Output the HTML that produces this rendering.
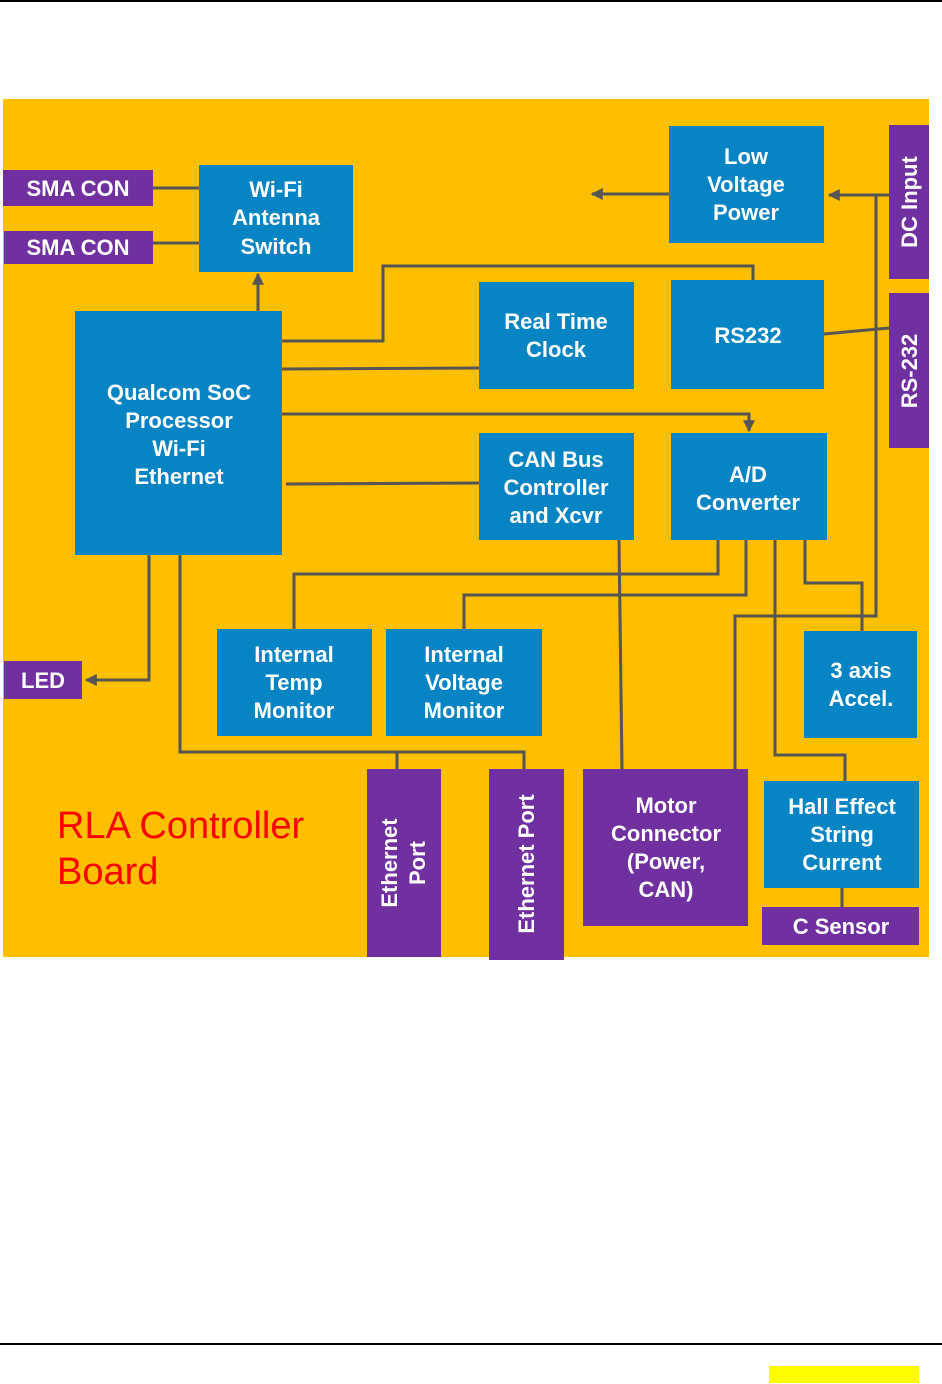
<!DOCTYPE html>
<html><head><meta charset="utf-8"><style>
html,body{margin:0;padding:0;background:#fff;}
svg{display:block;}
text{font-family:"Liberation Sans",sans-serif;font-weight:bold;fill:#fff;font-size:22px;}
</style></head><body>
<svg width="942" height="1384" viewBox="0 0 942 1384" xmlns="http://www.w3.org/2000/svg">
<defs><marker id="a" markerWidth="8" markerHeight="8" refX="6" refY="4" orient="auto" markerUnits="userSpaceOnUse"><path d="M0,0 L8,4 L0,8 Z" fill="#555"/></marker>
<marker id="b" viewBox="0 0 10 10" markerWidth="12" markerHeight="12" refX="9" refY="5" orient="auto" markerUnits="userSpaceOnUse"><path d="M0,0 L10,5 L0,10 Z" fill="#555"/></marker></defs>
<line x1="0" y1="1" x2="942" y2="1" stroke="#000" stroke-width="2"/>
<line x1="0" y1="1344" x2="942" y2="1344" stroke="#000" stroke-width="2"/>
<rect x="769" y="1366" width="150" height="17" fill="#ffff00"/>
<rect x="3" y="99" width="926" height="858" fill="#fdbf00"/>
<g stroke="#555" stroke-width="3" fill="none">
<path d="M153,188H199M153,243H199"/>
<path d="M258,311V274" marker-end="url(#b)"/>
<path d="M282,341H383V266H753V280"/>
<path d="M282,369L479,368"/>
<path d="M282,414H749V431" marker-end="url(#b)"/>
<path d="M286,484L479,483"/>
<path d="M669,194H592" marker-end="url(#b)"/>
<path d="M889,195H829" marker-end="url(#b)"/>
<path d="M876,195V616H735V769"/>
<path d="M824,334L889,328"/>
<path d="M619,540L622,769"/>
<path d="M718,540V574H294V629"/>
<path d="M746,540V595H464V629"/>
<path d="M775,540V755H845V781"/>
<path d="M805,540V583H862V631"/>
<path d="M149,555V680H86" marker-end="url(#b)"/>
<path d="M180,555V752H524V769M397,752V769"/>
<path d="M842,888V907"/>
</g>
<g fill="#0784c3">
<rect x="199" y="165" width="154" height="107"/>
<rect x="75" y="311" width="207" height="244"/>
<rect x="669" y="126" width="155" height="117"/>
<rect x="479" y="282" width="155" height="107"/>
<rect x="671" y="280" width="153" height="109"/>
<rect x="479" y="433" width="155" height="107"/>
<rect x="671" y="433" width="156" height="107"/>
<rect x="217" y="629" width="155" height="107"/>
<rect x="386" y="629" width="156" height="107"/>
<rect x="804" y="631" width="113" height="107"/>
<rect x="764" y="781" width="155" height="107"/>
</g>
<g fill="#7030a0">
<rect x="3" y="170" width="150" height="36"/>
<rect x="4" y="231" width="149" height="33"/>
<rect x="889" y="125" width="40" height="154"/>
<rect x="889" y="293" width="40" height="155"/>
<rect x="4" y="661" width="78" height="38"/>
<rect x="367" y="769" width="74" height="188"/>
<rect x="489" y="769" width="75" height="191"/>
<rect x="583" y="769" width="165" height="157"/>
<rect x="762" y="907" width="157" height="38"/>
</g>
<g text-anchor="middle">
<text x="78" y="196">SMA CON</text>
<text x="78" y="255">SMA CON</text>
<text x="276" y="197">Wi-Fi</text><text x="276" y="225">Antenna</text><text x="276" y="254">Switch</text>
<text x="179" y="400">Qualcom SoC</text><text x="179" y="428">Processor</text><text x="179" y="456">Wi-Fi</text><text x="179" y="484">Ethernet</text>
<text x="746" y="164">Low</text><text x="746" y="192">Voltage</text><text x="746" y="220">Power</text>
<text x="556" y="329">Real Time</text><text x="556" y="357">Clock</text>
<text x="748" y="343">RS232</text>
<text x="556" y="467">CAN Bus</text><text x="556" y="495">Controller</text><text x="556" y="523">and Xcvr</text>
<text x="748" y="482">A/D</text><text x="748" y="510">Converter</text>
<text x="294" y="662">Internal</text><text x="294" y="690">Temp</text><text x="294" y="718">Monitor</text>
<text x="464" y="662">Internal</text><text x="464" y="690">Voltage</text><text x="464" y="718">Monitor</text>
<text x="861" y="678">3 axis</text><text x="861" y="706">Accel.</text>
<text x="43" y="688">LED</text>
<text x="666" y="813">Motor</text><text x="666" y="841">Connector</text><text x="666" y="869">(Power,</text><text x="666" y="897">CAN)</text>
<text x="842" y="814">Hall Effect</text><text x="842" y="842">String</text><text x="842" y="870">Current</text>
<text x="841" y="934">C Sensor</text>
<text transform="translate(917,202) rotate(-90)">DC Input</text>
<text transform="translate(917,371) rotate(-90)">RS-232</text>
<text transform="translate(397,863) rotate(-90)">Ethernet</text>
<text transform="translate(425,863) rotate(-90)">Port</text>
<text transform="translate(534,864) rotate(-90)">Ethernet Port</text>
</g>
<text x="57" y="838" style="font-weight:normal;fill:#ff0000;font-size:38px">RLA Controller</text>
<text x="57" y="884" style="font-weight:normal;fill:#ff0000;font-size:38px">Board</text>
</svg>
</body></html>
